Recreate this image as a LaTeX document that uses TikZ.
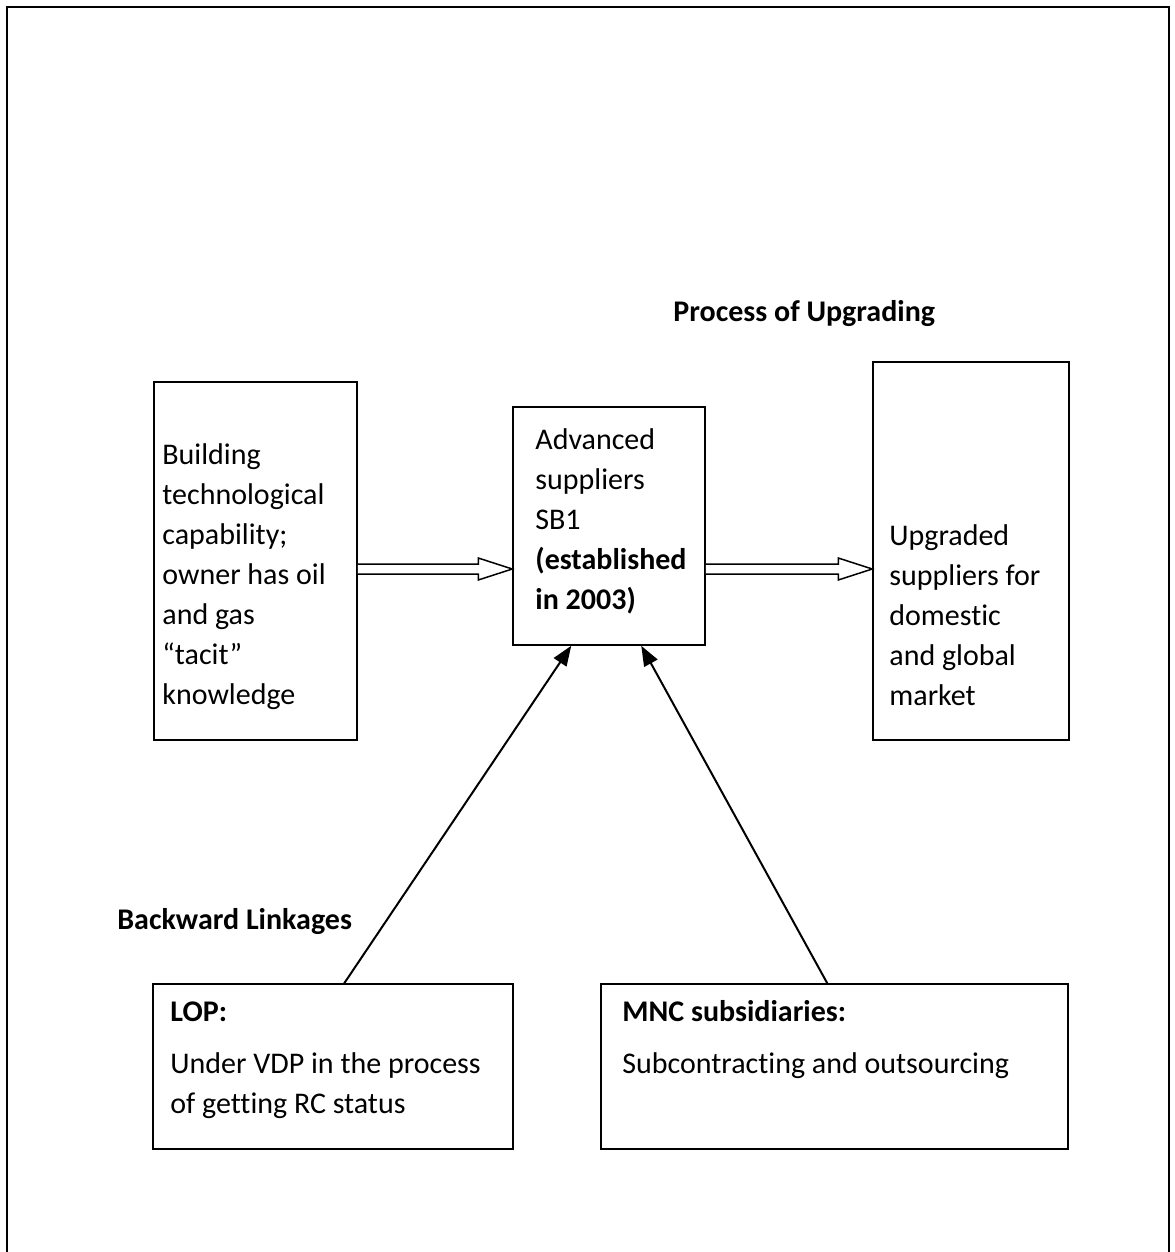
\documentclass[tikz,border=0pt]{standalone}
\usepackage{fontspec}
\setmainfont{Carlito}[Ligatures={NoCommon}]
\usetikzlibrary{arrows.meta,calc}
\newcommand{\lines}[1]{\begin{tabular}[t]{@{}l@{}}#1\end{tabular}}
\begin{document}
\begin{tikzpicture}[x=0.5pt,y=-0.5pt,
  box/.style={draw,line width=0.75pt,rectangle,inner sep=0pt},
  txt/.style={anchor=base west,inner sep=0pt,font=\fontsize{15}{20}\selectfont},
  link/.style={line width=1pt,-{Triangle[length=10pt,width=7.5pt]}},
  hollow/.style={line width=0.75pt,fill=white,line join=miter}]
\useasboundingbox (0,0) rectangle (1174,1252);
% outer frame
\draw[line width=1.2pt] (7,1260) -- (7,7) -- (1169,7) -- (1169,1260);
% boxes
\node[box,minimum width=101.5pt,minimum height=179pt] (A) at (255.5,561) {};
\node[box,minimum width=96pt,minimum height=119pt] (B) at (609,526) {};
\node[box,minimum width=98pt,minimum height=189pt] (C) at (971,551) {};
\node[box,minimum width=180pt,minimum height=82.5pt] (D) at (333,1066.5) {};
\node[box,minimum width=233.5pt,minimum height=82.5pt] (E) at (834.5,1066.5) {};
% texts
\node[txt] (tA) at (162,464) {\lines{Building\\technological\\capability;\\owner has oil\\and gas\\“tacit”\\knowledge}};
\node[txt] (tB) at (535,449) {\lines{Advanced\\suppliers\\SB1\\\textbf{(established}\\\textbf{in 2003)}}};
\node[txt] (tC) at (889,545) {\lines{Upgraded\\suppliers for\\domestic\\and global\\market}};
\node[txt,font=\fontsize{15}{20}\selectfont\bfseries] (tP) at (673,321) {Process of Upgrading};
\node[txt,font=\fontsize{15}{20}\selectfont\bfseries] (tBL) at (117,929) {Backward Linkages};
\node[txt] (tD) at (170,1021) {\lines{\textbf{LOP:}\\[6pt]Under VDP in the process\\of getting RC status}};
\node[txt] (tE) at (622,1021) {\lines{\textbf{MNC subsidiaries:}\\[6pt]Subcontracting and outsourcing}};
% hollow double arrows
\coordinate (ay) at (0,569);
\foreach \s/\t in {A/B,B/C}{
  \draw[hollow] ($(\s.east |- ay)+(0,-5)$) -- ($(\t.west |- ay)+(-34,-5)$) -- ($(\t.west |- ay)+(-34,-11)$)
     -- (\t.west |- ay) -- ($(\t.west |- ay)+(-34,11)$) -- ($(\t.west |- ay)+(-34,5)$) -- ($(\s.east |- ay)+(0,5)$);
}
% backward linkage arrows
\draw[link] ($(D.north west)+(192,0)$) -- ($(B.south west)+(59,0)$);
\draw[link] ($(E.north west)+(227,0)$) -- ($(B.south west)+(129,0)$);
\end{tikzpicture}
\end{document}
